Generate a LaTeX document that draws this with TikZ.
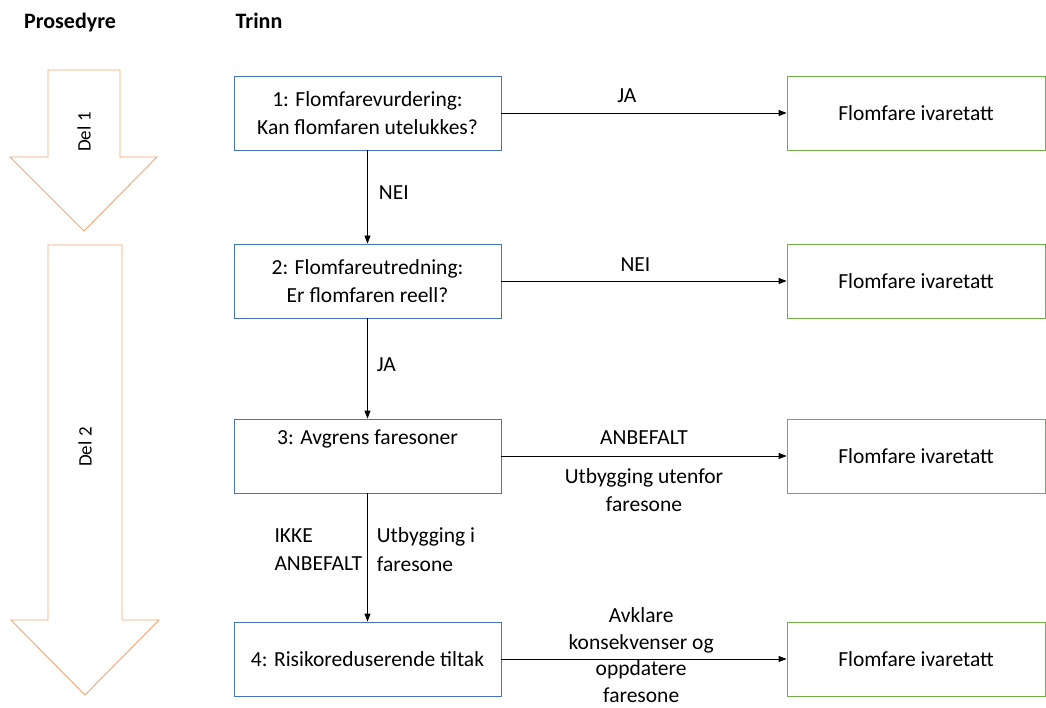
\documentclass[tikz,border=0pt]{standalone}
\usepackage{fontspec}
\setmainfont{Carlito}
\usepackage{tikz}
\usetikzlibrary{arrows.meta}
\definecolor{stepblue}{HTML}{4472C4}
\definecolor{donegreen}{HTML}{70AD47}
\definecolor{partorange}{HTML}{F2A36E}

\begin{document}
\begin{tikzpicture}[x=1pt,y=-1pt,
	every node/.style={font=\fontsize{21.5}{28.5}\selectfont, align=center, inner sep=2pt},
	stepbox/.style={draw=stepblue, line width=0.8pt, minimum width=267pt, minimum height=74pt},
	donebox/.style={draw=donegreen, line width=0.8pt, minimum width=258pt, minimum height=74pt},
	flow/.style={line width=0.8pt, -{Triangle[length=8pt,width=6pt]}},
	partarrow/.style={draw=partorange, line width=0.9pt, line join=miter}]
		\useasboundingbox (0,0) rectangle (1046,708);
		% headers
		\node[font=\bfseries\fontsize{22}{26}\selectfont] (hproc) at (70,23) {Prosedyre};
		\node[font=\bfseries\fontsize{22}{26}\selectfont] (hstep) at (259,21) {Trinn};
		% procedure arrows
		\draw[partarrow] (48,70) -- (120,70) -- (120,157) -- (157,157) -- (84,231) -- (10,157) -- (48,157) -- cycle;
		\node[rotate=90, font=\fontsize{19}{23}\selectfont] (del1) at (84,132) {Del 1};
		\draw[partarrow] (48,245) -- (122,245) -- (122,620) -- (159,620) -- (85,695) -- (11,620) -- (48,620) -- cycle;
		\node[rotate=90, font=\fontsize{19}{23}\selectfont] (del2) at (85,447) {Del 2};
		% steps
		\node[stepbox] (s1) at (367.5,113) {1: Flomfarevurdering:\\Kan flomfaren utelukkes?};
		\node[stepbox] (s2) at (367.5,281) {2: Flomfareutredning:\\Er flomfaren reell?};
		\node[stepbox] (s3) at (367.5,456) {3: Avgrens faresoner\\\strut};
		\node[stepbox] (s4) at (367.5,659) {4: Risikoreduserende tiltak};
		% outcomes
		\node[donebox] (d1) at (916,113) {Flomfare ivaretatt};
		\node[donebox] (d2) at (916,281) {Flomfare ivaretatt};
		\node[donebox] (d3) at (916,456) {Flomfare ivaretatt};
		\node[donebox] (d4) at (916,659) {Flomfare ivaretatt};
		% horizontal connectors
		\draw[flow] (s1) -- node[pos=0.44, above=8pt] (ja1) {JA} (d1);
		\draw[flow] (s2) -- node[pos=0.47, above=7pt] (nei2) {NEI} (d2);
		\draw[flow] (s3) -- node[above=9pt] (anb) {ANBEFALT}
			node[below=10pt] (utenfor) {Utbygging utenfor\\faresone} (d3);
		\draw[flow] (s4) -- node[pos=0.49, yshift=4pt, inner sep=0pt, font=\fontsize{21.5}{26.5}\selectfont] (avklare) {Avklare\\konsekvenser og\\oppdatere\\faresone} (d4);
		% vertical connectors
		\draw[flow] (s1) -- node[pos=0.45, right=9pt] (nei1) {NEI} (s2);
		\draw[flow] (s2) -- node[pos=0.46, right=7pt] (ja2) {JA} (s3);
		\draw[flow] (s3) -- node[pos=0.44, left=3pt, align=left] (ikke) {IKKE\\ANBEFALT}
			node[pos=0.44, right=7pt, align=left] (ifare) {Utbygging i\\faresone} (s4);
\end{tikzpicture}
\end{document}
